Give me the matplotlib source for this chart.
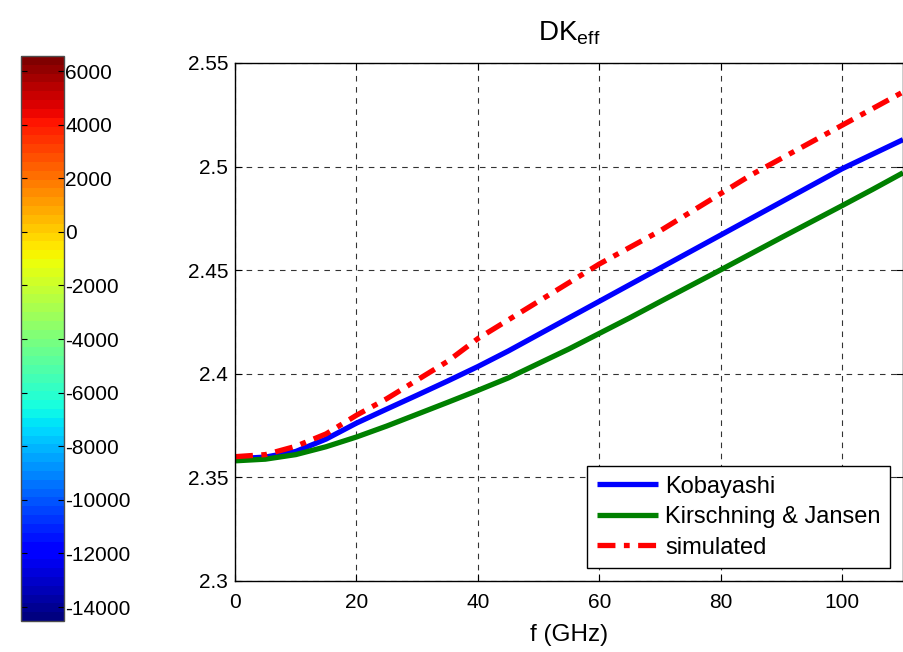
import numpy as np
import matplotlib
matplotlib.use("Agg")
import matplotlib.pyplot as plt
from matplotlib.colors import Normalize
import matplotlib as mpl

plt.rcParams['font.family'] = ['Liberation Sans', 'DejaVu Sans']
plt.rcParams['axes.unicode_minus'] = False
plt.rcParams['mathtext.default'] = 'regular'

# ---- data ----
freq = [0, 5, 10, 15, 20, 25, 30, 35, 40, 45, 50, 55, 60, 65, 70, 75, 80, 85, 90, 95, 100, 105, 110]
kobayashi = [2.359, 2.3598, 2.3625, 2.3685, 2.3762, 2.383, 2.3897, 2.3965, 2.4035, 2.411, 2.419, 2.427,
             2.435, 2.443, 2.451, 2.459, 2.467, 2.475, 2.483, 2.491, 2.499, 2.506, 2.513]
kirschning = [2.358, 2.3588, 2.361, 2.3648, 2.3695, 2.3748, 2.3805, 2.3862, 2.392, 2.398, 2.405, 2.412,
              2.4195, 2.427, 2.4348, 2.4425, 2.4502, 2.458, 2.4658, 2.4735, 2.4812, 2.489, 2.497]
simulated = [2.360, 2.361, 2.365, 2.371, 2.380, 2.388, 2.397, 2.406, 2.417, 2.426, 2.435, 2.444,
             2.453, 2.461, 2.469, 2.478, 2.487, 2.496, 2.504, 2.512, 2.520, 2.528, 2.536]
series_labels = ['Kobayashi', 'Kirschning & Jansen', 'simulated']
x_ticks = [0, 20, 40, 60, 80, 100]
y_ticks = [2.3, 2.35, 2.4, 2.45, 2.5, 2.55]
y_tick_labels = ['2.3', '2.35', '2.4', '2.45', '2.5', '2.55']
cbar_min, cbar_max = -14520, 6560
cbar_ticks = [-14000, -12000, -10000, -8000, -6000, -4000, -2000, 0, 2000, 4000, 6000]

fig = plt.figure(figsize=(9.04, 6.52), dpi=100)

# ---- main axes ----
ax = fig.add_axes([235/904, 1-581/652, (903-235)/904, (581-63)/652])
ax.plot(freq, kobayashi, color='#0000ff', lw=3.8, label=series_labels[0], solid_capstyle='butt')
ax.plot(freq, kirschning, color='#008000', lw=3.8, label=series_labels[1], solid_capstyle='butt')
ax.plot(freq, simulated, color='#ff0000', lw=3.8, label=series_labels[2],
        linestyle=(0, (3.4, 1.6, 1.1, 1.6)), dash_capstyle='butt')
ax.set_xlim(0, 110)
ax.set_ylim(2.3, 2.55)
ax.set_xticks(x_ticks)
ax.set_yticks(y_ticks)
ax.set_yticklabels(y_tick_labels)
ax.tick_params(direction='in', length=5, width=0.8, top=True, right=True, labelsize=15)
ax.tick_params(axis='y', pad=5)
ax.tick_params(axis='x', pad=9)
ax.grid(True, color='k', linestyle=(0, (5, 5)), linewidth=0.8, alpha=0.8)
for s in ax.spines.values():
    s.set_linewidth(1.0)
ax.set_title('DK$_{eff}$', fontsize=20, pad=16)
ax.set_xlabel('f (GHz)', fontsize=17.5, labelpad=8)
leg = ax.legend(loc='lower right', fontsize=17, handlelength=2.6, handletextpad=0.3,
                borderpad=0.4, labelspacing=0.36, fancybox=False, framealpha=1,
                edgecolor='k', borderaxespad=0.55)
leg.get_frame().set_linewidth(1.0)

# ---- colorbar ----
cax = fig.add_axes([21/904, 1-621/652, (64-21)/904, (621-56)/652])
cmap = mpl.colormaps['jet'].resampled(64)
norm = Normalize(vmin=cbar_min, vmax=cbar_max)
cb = fig.colorbar(mpl.cm.ScalarMappable(norm=norm, cmap=cmap), cax=cax)
cb.set_ticks(cbar_ticks)
cb.ax.tick_params(direction='in', length=4, width=0.8, labelsize=15, pad=1, left=True)
cb.outline.set_linewidth(1.0)
cb.outline.set_edgecolor('0.3')

fig.savefig('out.png', dpi=100)
